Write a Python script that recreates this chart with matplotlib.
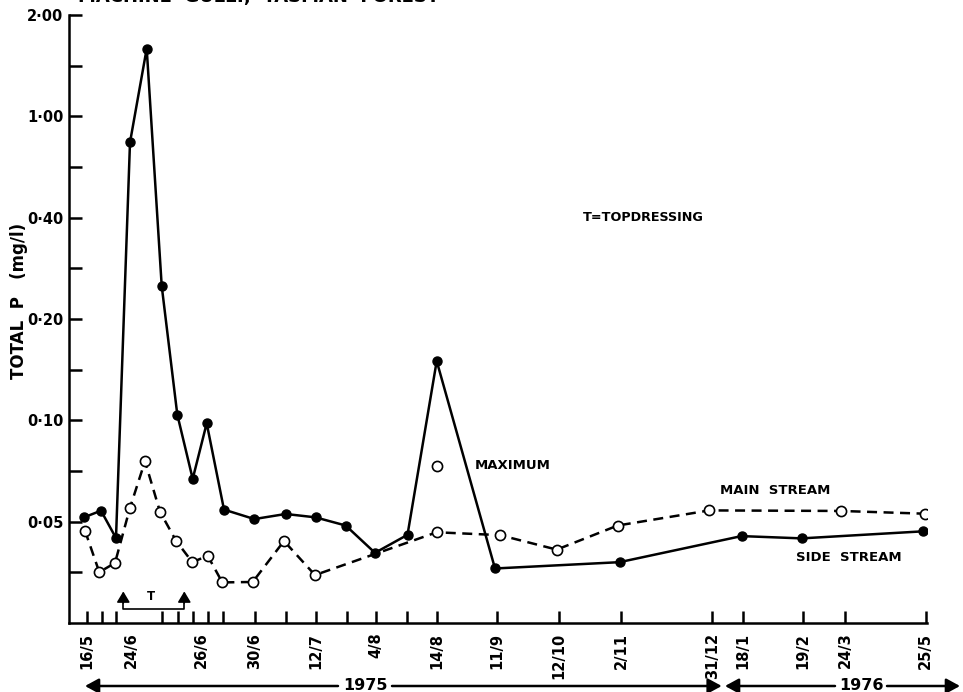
import numpy as np
import matplotlib
matplotlib.use("Agg")
import matplotlib.pyplot as plt
from matplotlib import transforms

# sample positions along the (non-linear) time axis and total P in mg/l
side_x = [84, 101, 116, 130, 146.7, 161.7, 177.3, 192.7, 206.7, 224, 254.3,
          285.7, 315.5, 345.7, 375, 407.5, 436.7, 495, 619.5, 741.5, 801.7, 923]
side_p = [0.0515, 0.0539, 0.0447, 0.79, 1.59, 0.251, 0.104, 0.067, 0.098,
          0.0543, 0.0509, 0.0527, 0.0515, 0.0487, 0.0404, 0.0457, 0.150,
          0.0363, 0.0379, 0.0453, 0.0446, 0.0468]

main_x = [85, 99.3, 115, 130, 145, 160, 176, 192.3, 207.7, 222.3, 252.7, 284,
          315, 436.7, 500, 556.7, 617.7, 709.3, 841, 925]
main_p = [0.0470, 0.0354, 0.0377, 0.0550, 0.0756, 0.0535, 0.0439, 0.0379,
          0.0396, 0.0330, 0.0331, 0.0438, 0.0347, 0.0465, 0.0456, 0.0413,
          0.0487, 0.0540, 0.0538, 0.0528]

max_x = [436.7]
max_p = [0.0733]

# sampling days: tick marks and date labels
tick_pos = [86.7, 102.3, 116, 162.3, 178.3, 192.7, 207.7, 223, 255, 286, 316.3,
            346.7, 376, 406.7, 436.7, 497.3, 559, 621, 712.3, 743.3, 802.7,
            845, 925.7]
label_pos = [86.7, 131.7, 201.7, 255, 316.3, 376, 436.7, 497.3, 559, 621,
             712.3, 743.3, 802.7, 845, 925.7]
date_labels = ["16/5", "24/6", "26/6", "30/6", "12/7", "4/8", "14/8", "11/9",
               "12/10", "2/11", "31/12", "18/1", "19/2", "24/3", "25/5"]

topdress = [123.3, 184.3]   # start / end of topdressing

# y axis: labelled values are evenly spaced
y_ticks = [0.05, 0.10, 0.20, 0.40, 1.00, 2.00]
y_labels = ["0·05", "0·10", "0·20", "0·40", "1·00", "2·00"]

LT = np.log(y_ticks)
POS = np.arange(len(y_ticks), dtype=float)
L2 = np.log(2)


def fwd(v):
    v = np.clip(np.asarray(v, dtype=float), 1e-6, None)
    lv = np.log(v)
    p = np.interp(lv, LT, POS)
    p = np.where(lv < LT[0], (lv - LT[0]) / L2, p)
    p = np.where(lv > LT[-1], POS[-1] + (lv - LT[-1]) / L2, p)
    return p


def inv(p):
    p = np.asarray(p, dtype=float)
    lv = np.interp(p, POS, LT)
    lv = np.where(p < 0, LT[0] + p * L2, lv)
    lv = np.where(p > POS[-1], LT[-1] + (p - POS[-1]) * L2, lv)
    return np.exp(lv)


plt.rcParams["font.family"] = "DejaVu Sans"
plt.rcParams["font.weight"] = "bold"

W, H = 963, 692
fig = plt.figure(figsize=(W / 100, H / 100), dpi=100)
ax = fig.add_axes([69 / W, (H - 623) / H, (927 - 69) / W, (623 - 15) / H])

ax.set_yscale("function", functions=(fwd, inv))
ax.set_ylim(inv(-1.0), 2.0)
ax.set_xlim(69, 927)

ax.plot(main_x, main_p, color="black", lw=1.8, ls=(0, (4, 2.6)),
        marker="o", ms=7.3, mfc="white", mec="black", mew=1.2, zorder=3)
ax.plot(side_x, side_p, color="black", lw=1.8, ls="-",
        marker="o", ms=6.5, mfc="black", mec="black", zorder=4)
ax.plot(max_x, max_p, ls="none", marker="o", ms=7.3, mfc="white",
        mec="black", mew=1.2, zorder=3)

# axes styling
for s in ("top", "right"):
    ax.spines[s].set_visible(False)
for s in ("left", "bottom"):
    ax.spines[s].set_linewidth(1.8)

ax.set_yticks(y_ticks)
ax.set_yticklabels(y_labels)
ax.set_yticks(inv(np.arange(-0.5, 5, 1.0)), minor=True)
ax.yaxis.set_minor_formatter(plt.NullFormatter())
ax.tick_params(axis="y", which="both", direction="in", length=9, width=1.8,
               labelsize=10.5, pad=4)

ax.xaxis.remove_overlapping_locs = False
ax.set_xticks(tick_pos, minor=True)
ax.set_xticks(label_pos)
ax.set_xticklabels(date_labels, rotation=90)
ax.tick_params(axis="x", which="minor", direction="in", length=9, width=1.8)
ax.tick_params(axis="x", which="major", length=0, labelsize=10.5, pad=7)

ax.set_ylabel("TOTAL  P   (mg/l)", fontsize=12, fontweight="bold")
ax.yaxis.set_label_coords(-0.048, 0.53)

# text labels
fig.text(78 / W, 1 - 2 / H, "MACHINE  GULLY,  TASMAN  FOREST", fontsize=13,
         fontweight="bold", ha="left", va="baseline")
ax.text(583, 0.40, "T=TOPDRESSING", fontsize=9.2, va="center", ha="left")
ax.text(475, max_p[0], "MAXIMUM", fontsize=9.5, va="center", ha="left")
ax.text(720, inv((522.7 - 492) / 101.4), "MAIN  STREAM", fontsize=9.5,
        va="center", ha="left")
ax.text(796, inv((522.7 - 559) / 101.4), "SIDE  STREAM", fontsize=9.5,
        va="center", ha="left")

# topdressing bracket
bt = ax.get_xaxis_transform()
y0, y1 = 0.023, 0.052
ax.plot([topdress[0], topdress[0], topdress[1], topdress[1]],
        [y1 - 0.01, y0, y0, y1 - 0.01], color="black", lw=1.2, transform=bt,
        clip_on=False)
for xt in topdress:
    ax.annotate("", xy=(xt, y1), xycoords=bt, xytext=(xt, y0 + 0.01),
                textcoords=bt,
                arrowprops=dict(arrowstyle="-|>,head_length=0.5,head_width=0.3",
                                mutation_scale=13, color="black", lw=1.2,
                                shrinkA=0, shrinkB=0))
ax.text(150.7, 0.043, "T", transform=bt, fontsize=8.5, ha="center",
        va="center")

# year arrows under the date labels
yt = transforms.blended_transform_factory(ax.transData, fig.transFigure)
ya = 6 / H
astyle = dict(arrowstyle="-|>,head_length=0.55,head_width=0.3",
              mutation_scale=15, color="black", lw=1.8, shrinkA=0, shrinkB=0)
for tip, tail in [(85, 338), (721.7, 392), (725, 835), (960, 887)]:
    ax.annotate("", xy=(tip, ya), xycoords=yt, xytext=(tail, ya),
                textcoords=yt, arrowprops=astyle, annotation_clip=False)
ax.text(365, ya, "1975", transform=yt, fontsize=11.5, ha="center",
        va="center")
ax.text(861, ya, "1976", transform=yt, fontsize=11.5, ha="center",
        va="center")

fig.savefig("out.png", dpi=100)
